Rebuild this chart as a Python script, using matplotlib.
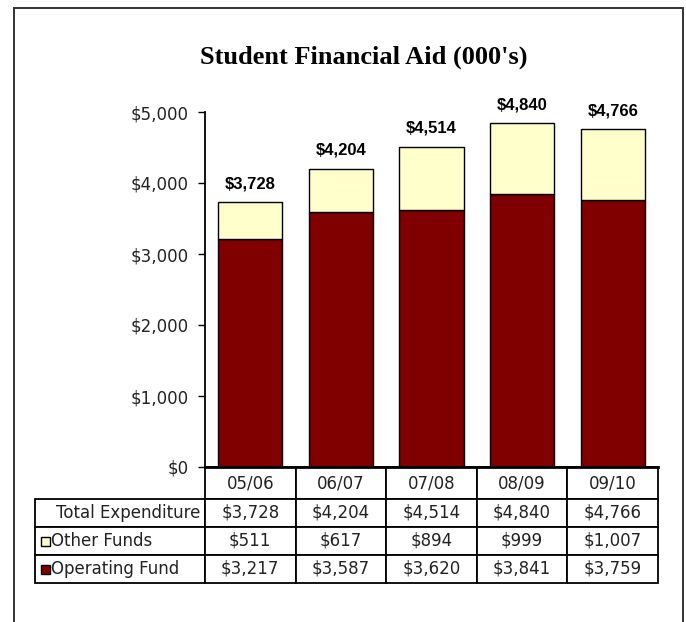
import matplotlib.pyplot as plt
from matplotlib.patches import Rectangle
from matplotlib.table import Table
from matplotlib.ticker import FuncFormatter

plt.rcParams['font.family'] = ['DejaVu Sans']

years = ['05/06', '06/07', '07/08', '08/09', '09/10']
operating_fund = [3217, 3587, 3620, 3841, 3759]
other_funds = [511, 617, 894, 999, 1007]
total_expenditure = [3728, 4204, 4514, 4840, 4766]
row_names = ['Total Expenditure', 'Other Funds', 'Operating Fund']

OPERATING_COLOR = '#800000'
OTHER_COLOR = '#FFFFCC'


def money(v):
    return f'${v:,.0f}'


W, H = 686, 622
fig = plt.figure(figsize=(W / 100, H / 100), dpi=100)

# plot area in pixels: left 205, right 658, $0 at 467, $5,000 at 112
ax_w, ax_h = 453, 355
ax = fig.add_axes([205 / W, 1 - 467 / H, ax_w / W, ax_h / H])

x = list(range(len(years)))
ax.bar(x, operating_fund, width=0.71, color=OPERATING_COLOR,
       edgecolor='black', linewidth=1, zorder=3)
ax.bar(x, other_funds, bottom=operating_fund, width=0.71, color=OTHER_COLOR,
       edgecolor='black', linewidth=1, zorder=3)

for i, t in enumerate(total_expenditure):
    ax.annotate(money(t), (i, t), xytext=(0, 13), textcoords='offset points',
                ha='center', va='center', fontsize=12, fontweight='bold',
                family=['Liberation Sans', 'DejaVu Sans'])

ax.set_xlim(-0.5, len(years) - 0.5)
ax.set_ylim(0, 5000)
ax.set_yticks(range(0, 5001, 1000))
ax.yaxis.set_major_formatter(FuncFormatter(lambda v, _: money(v)))
ax.tick_params(axis='y', labelsize=12, length=5, width=1, pad=7,
               labelcolor='#222222')
ax.set_xticks([])
for side in ['top', 'right']:
    ax.spines[side].set_visible(False)
ax.spines['left'].set_linewidth(1.3)
ax.spines['bottom'].set_linewidth(2)
ax.spines['bottom'].set_zorder(4)

# data table under the bars: header row 32px, body rows 28px
label_w = 170 / ax_w
tbl_h = 116 / ax_h
tbl = Table(ax, bbox=[-label_w, -tbl_h, 1 + label_w, tbl_h])
head_h = 32 / ax_h
row_h = 28 / ax_h
col_w = 1 / len(years)

tbl.add_cell(0, 0, label_w, head_h, text='')
tbl[0, 0].visible_edges = ''
for j, yr in enumerate(years):
    tbl.add_cell(0, j + 1, col_w, head_h, text=yr, loc='center')

table_rows = [total_expenditure, other_funds, operating_fund]
for r, (name, vals) in enumerate(zip(row_names, table_rows), start=1):
    loc = 'right' if r == 1 else 'left'
    c = tbl.add_cell(r, 0, label_w, row_h, text=name, loc=loc)
    c.PAD = 0.03 if r == 1 else 0.095
    for j, v in enumerate(vals):
        tbl.add_cell(r, j + 1, col_w, row_h, text=money(v), loc='center')

tbl.auto_set_font_size(False)
tbl.set_fontsize(12)
for cell in tbl.get_celld().values():
    cell.set_linewidth(1.3)
    cell.set_edgecolor('black')
    cell.get_text().set_color('#222222')
ax.add_table(tbl)

# legend keys in front of the series row labels
key_w, key_h = 9 / ax_w, 9 / ax_h
for r, color in [(2, OTHER_COLOR), (3, OPERATING_COLOR)]:
    yc = -tbl_h + row_h * (3 - r) + row_h / 2
    ax.add_patch(Rectangle((-label_w + 6 / ax_w, yc - key_h / 2), key_w, key_h,
                           transform=ax.transAxes, facecolor=color,
                           edgecolor='black', linewidth=1, clip_on=False))

fig.text(364 / W, 1 - 57 / H, "Student Financial Aid (000's)",
         family=['Liberation Serif', 'DejaVu Serif'], fontsize=19,
         fontweight='bold', ha='center', va='center')

# chart area border
fig.patches.append(Rectangle((14 / W, -0.02), 669 / W, 1.02 - 7.5 / H,
                             transform=fig.transFigure, fill=False,
                             edgecolor='#333333', linewidth=1.4))

fig.savefig('out.png', dpi=100)
